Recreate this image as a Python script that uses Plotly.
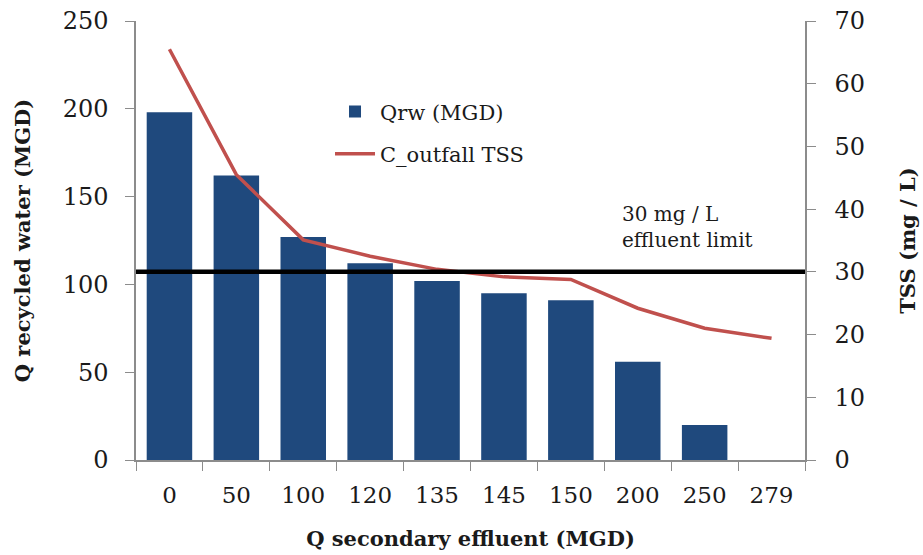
import plotly.graph_objects as go

# Secondary-effluent flow categories (MGD)
q_secondary = ["0", "50", "100", "120", "135", "145", "150", "200", "250", "279"]
# Recycled water flow (MGD)
q_recycled = [198, 162, 127, 112, 102, 95, 91, 56, 20, 0]
# Outfall TSS concentration (mg/L)
tss_outfall = [65.5, 45.5, 35.1, 32.5, 30.4, 29.2, 28.8, 24.2, 21.0, 19.4]
# Effluent limit (mg/L)
tss_limit = 30

FONT = "DejaVu Serif"
AXIS_GREY = "#8c8c8c"

fig = go.Figure()

fig.add_trace(go.Bar(
    x=q_secondary, y=q_recycled, name="Qrw (MGD)",
    marker=dict(color="#1F497D", line=dict(width=0)),
    yaxis="y", legendgroup="a",
))
fig.add_trace(go.Scatter(
    x=q_secondary, y=tss_outfall, name="C_outfall TSS",
    mode="lines", line=dict(color="#C0504D", width=3.5),
    yaxis="y2", legendgroup="b",
))

fig.add_shape(
    type="line", xref="paper", x0=0, x1=1, yref="y2", y0=tss_limit, y1=tss_limit,
    line=dict(color="black", width=4.5), layer="above",
)

fig.add_annotation(
    text="30 mg / L<br>effluent limit", xref="paper", yref="paper",
    x=0.724, y=0.531, xanchor="left", yanchor="middle", align="left",
    showarrow=False, font=dict(family=FONT, size=20, color="#1a1a1a"),
)

fig.update_layout(
    width=923, height=555,
    margin=dict(l=136, r=118, t=21, b=95),
    plot_bgcolor="white", paper_bgcolor="white",
    font=dict(family=FONT, size=21, color="#1a1a1a"),
    bargap=0.32,
    showlegend=True,
    legend=dict(
        x=0.29, y=0.84, xanchor="left", yanchor="top",
        bgcolor="rgba(0,0,0,0)", font=dict(family=FONT, size=21),
        traceorder="grouped", tracegroupgap=12, itemwidth=40,
    ),
    xaxis=dict(
        type="category", automargin=False,
        title=dict(text="<b>Q secondary effluent (MGD)</b>", font=dict(size=21), standoff=24),
        showline=True, linecolor=AXIS_GREY, linewidth=1.5,
        ticks="outside", ticklen=9, tickcolor=AXIS_GREY, tickson="boundaries",
        showgrid=False, tickfont=dict(size=23), ticklabelstandoff=14,
    ),
    yaxis=dict(
        automargin=False,
        title=dict(text="<b>Q recycled water (MGD)</b>", font=dict(size=21), standoff=26),
        range=[0, 250], dtick=50,
        showline=True, linecolor=AXIS_GREY, linewidth=1.5,
        ticks="outside", ticklen=9, tickcolor=AXIS_GREY,
        showgrid=False, zeroline=False, tickfont=dict(size=24),
        ticklabelstandoff=12,
    ),
    yaxis2=dict(
        automargin=False,
        title=dict(text="<b>TSS (mg / L)</b>", font=dict(size=21), standoff=36),
        overlaying="y", side="right",
        range=[0, 70], dtick=10,
        showline=True, linecolor=AXIS_GREY, linewidth=1.5,
        ticks="outside", ticklen=9, tickcolor=AXIS_GREY,
        showgrid=False, zeroline=False, tickfont=dict(size=24),
        ticklabelstandoff=14,
    ),
)

fig.write_html("out.html")
